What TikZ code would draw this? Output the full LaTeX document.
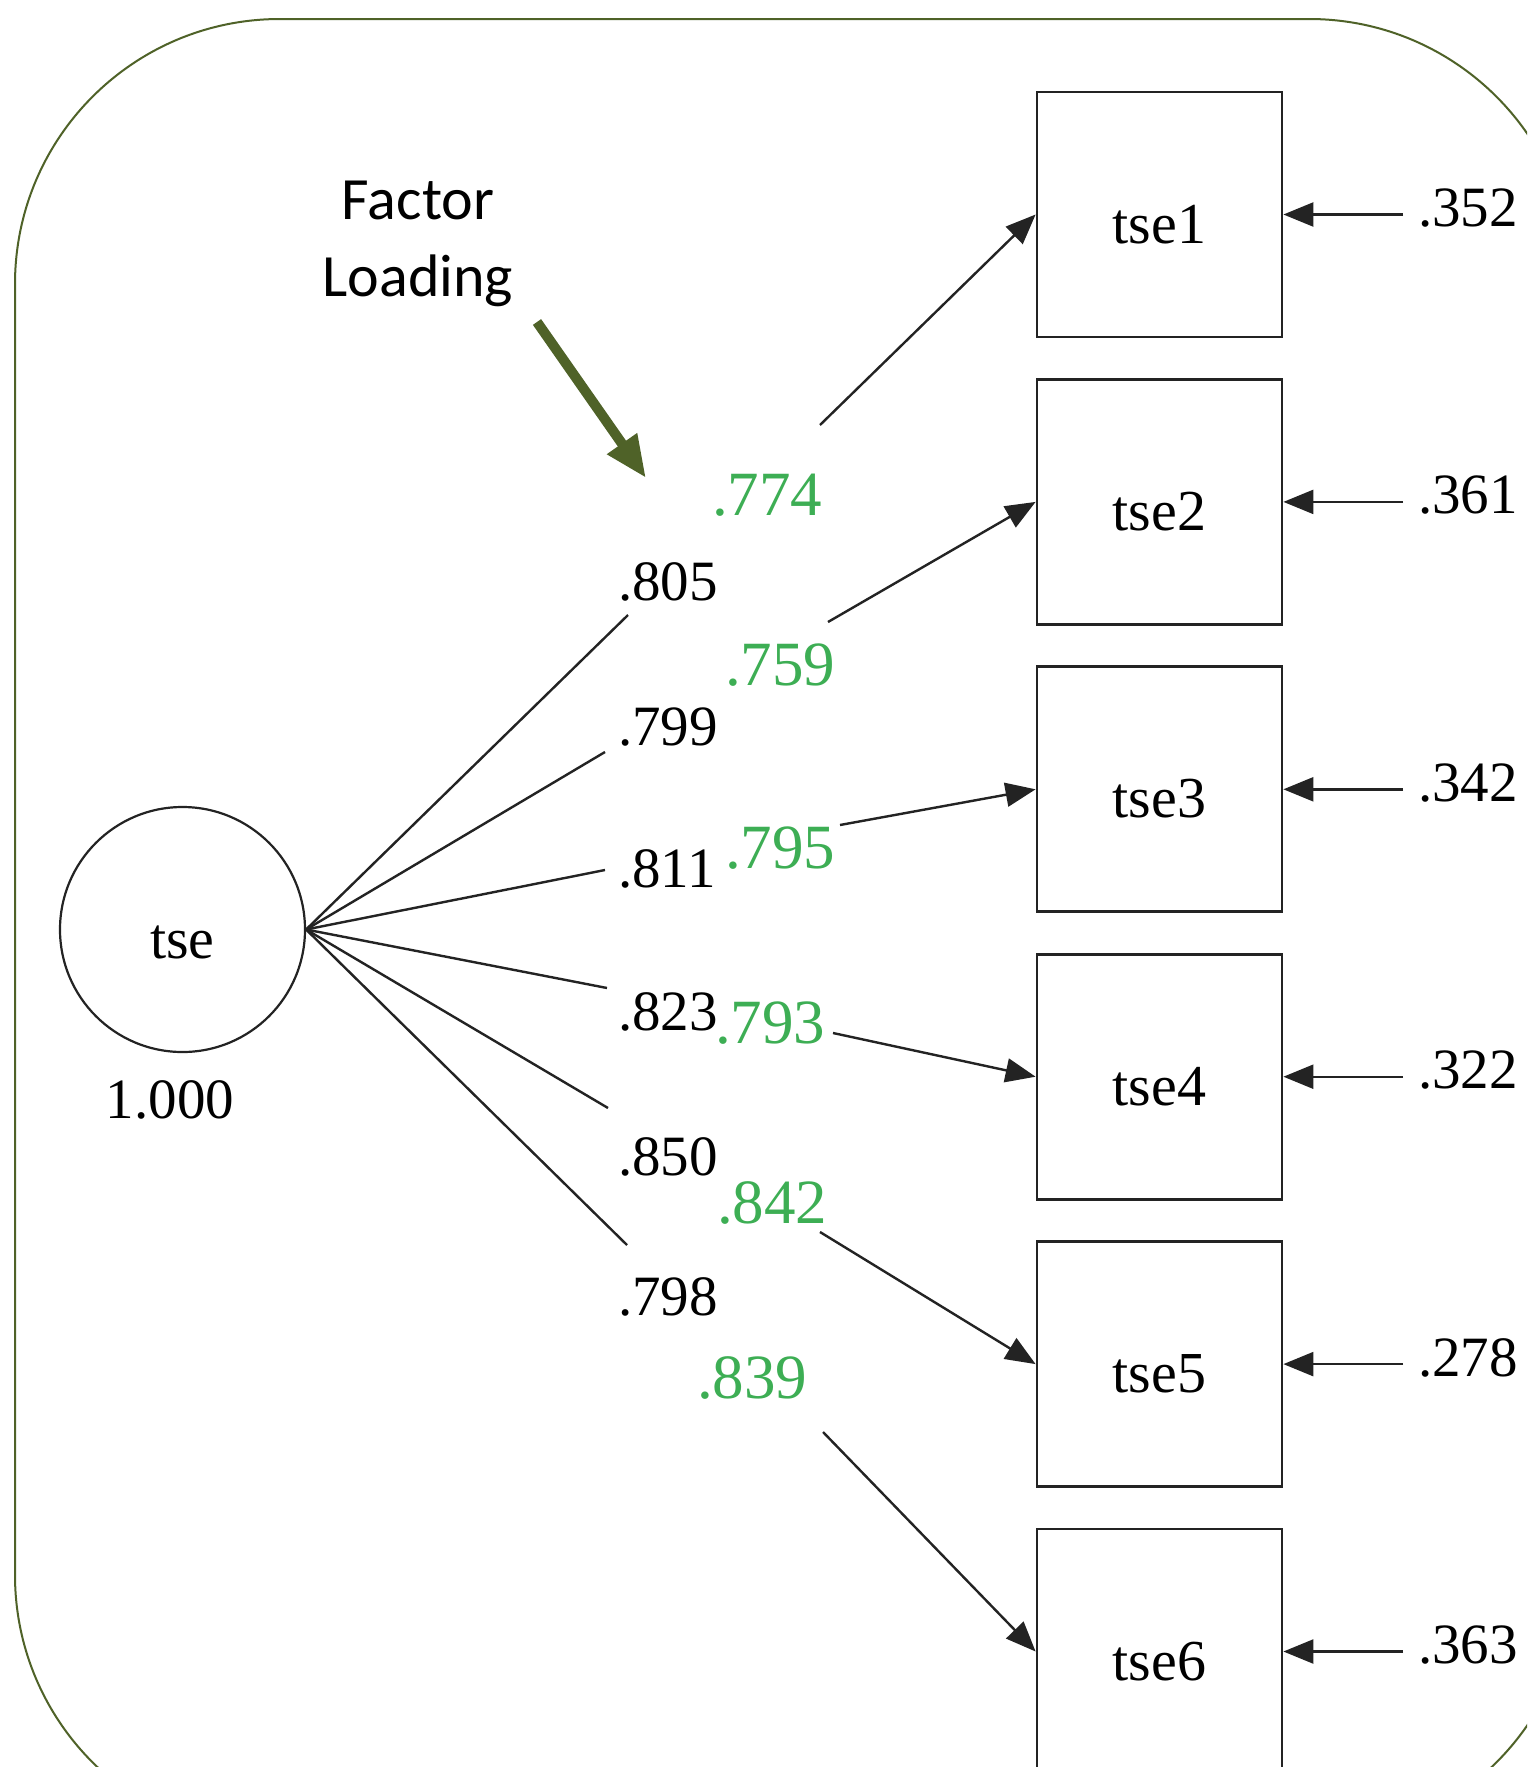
\documentclass[tikz,border=0pt]{standalone}
\usepackage{fontspec}
\setmainfont{Liberation Serif}
\newfontfamily\timesfont{Liberation Serif}
\newfontfamily\calibfont{Carlito}
\usetikzlibrary{arrows.meta}
\definecolor{frameolive}{RGB}{79,98,40}
\definecolor{loadgreen}{RGB}{61,174,84}
\definecolor{linegray}{RGB}{35,35,35}
\begin{document}
\begin{tikzpicture}[x=1pt,y=-1pt,
  obsbox/.style={draw=linegray,line width=2.8pt,minimum width=245pt,minimum height=245pt,
    inner sep=0pt,text height=57pt,text depth=0pt,font=\timesfont\fontsize{58}{68}\selectfont},
  latent/.style={circle,draw=linegray,line width=2.2pt,minimum size=245pt,
    inner sep=0pt,text height=57pt,text depth=0pt,font=\timesfont\fontsize{58}{68}\selectfont},
  num/.style={inner sep=0pt,anchor=base west,font=\timesfont\fontsize{57}{68}\selectfont},
  gnum/.style={inner sep=0pt,anchor=base west,text=loadgreen,font=\timesfont\fontsize{63}{75}\selectfont},
  link/.style={draw=linegray,line width=2.4pt},
  arr/.style={link,-{Triangle[length=30pt,width=24pt]}}
]
\useasboundingbox (0,0) rectangle (1527,1767);
\fill[white] (0,0) rectangle (1527,1767);
\begin{scope}
  \clip (0,0) rectangle (1527,1767);
  \draw[frameolive,line width=2pt,rounded corners=265pt] (15,19) rectangle (1574,1840);
\end{scope}

% latent variable
\node[latent] (tse) at (182.5,929.5) {tse};
\node[num,anchor=base] (var) at (170,1118) {1.000};

% observed boxes
\node[obsbox] (tse1) at (1159.5,214.5) {tse1};
\node[obsbox] (tse2) at (1159.5,501.9) {tse2};
\node[obsbox] (tse3) at (1159.5,789.3) {tse3};
\node[obsbox] (tse4) at (1159.5,1076.7) {tse4};
\node[obsbox] (tse5) at (1159.5,1364.1) {tse5};
\node[obsbox] (tse6) at (1159.5,1651.5) {tse6};

% error variances
\node[num] (e1) at (1418,226.5) {.352};
\node[num] (e2) at (1418,513.9) {.361};
\node[num] (e3) at (1418,801.3) {.342};
\node[num] (e4) at (1418,1088.7) {.322};
\node[num] (e5) at (1418,1376.1) {.278};
\node[num] (e6) at (1418,1663.5) {.363};
\foreach \i in {1,...,6}{
  \draw[arr] ([xshift=-15pt]tse\i.east -| e\i.west) -- (tse\i.east);
}

% black loadings
\node[num] (b1) at (618,600) {.805};
\node[num] (b2) at (618,745) {.799};
\node[num] (b3) at (618,887) {.811};
\node[num] (b4) at (618,1030) {.823};
\node[num] (b5) at (618,1175) {.850};
\node[num] (b6) at (618,1315) {.798};

\coordinate (l1) at (628,615);
\coordinate (l2) at (605,752);
\coordinate (l3) at (605,870);
\coordinate (l4) at (607,988);
\coordinate (l5) at (608,1108);
\coordinate (l6) at (627,1245);
\foreach \i in {1,...,6}{
  \draw[link] (tse.east) -- (l\i);
}

% green loadings
\node[gnum] (g1) at (712,515) {.774};
\node[gnum] (g2) at (725,685) {.759};
\node[gnum] (g3) at (725,868) {.795};
\node[gnum] (g4) at (715,1043) {.793};
\node[gnum] (g5) at (717,1223) {.842};
\node[gnum] (g6) at (697,1398) {.839};

\coordinate (r1) at (820,425);
\coordinate (r2) at (828,622);
\coordinate (r3) at (840,825);
\coordinate (r4) at (833,1033);
\coordinate (r5) at (820,1232);
\coordinate (r6) at (823,1432);
\foreach \i in {1,...,6}{
  \draw[arr] (r\i) -- (tse\i.west);
}

% annotation
\node[align=center,inner sep=0pt,font=\calibfont\fontsize{60}{77}\selectfont] (fl) at (418,244) {Factor\\Loading};
\coordinate (flstart) at (537,322);
\coordinate (fltip) at (646,478);
\draw[frameolive,line width=10pt,-{Triangle[length=42pt,width=34pt]}] (flstart) -- (fltip);
\end{tikzpicture}
\end{document}
